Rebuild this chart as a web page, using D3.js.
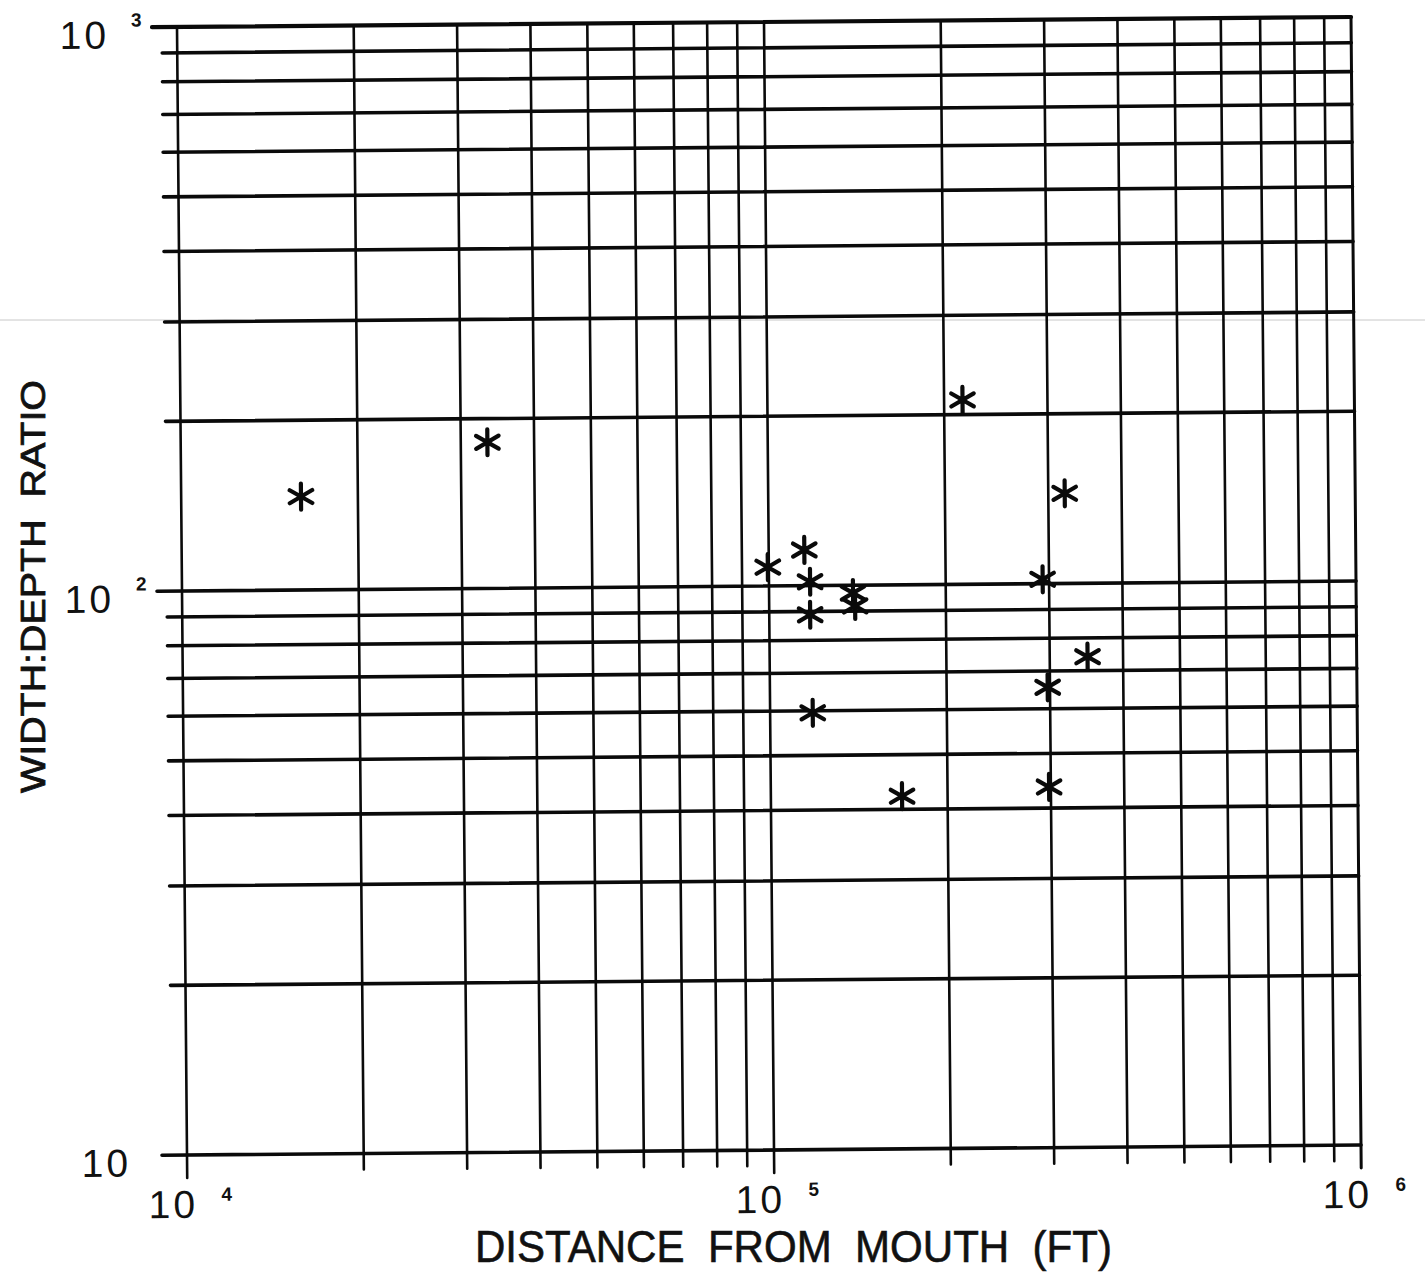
<!DOCTYPE html>
<html>
<head>
<meta charset="utf-8">
<script src="https://cdn.jsdelivr.net/npm/d3@7"></script>
<style>
  html, body { margin: 0; padding: 0; background: #fff; }
  svg { display: block; }
  text { font-family: "Liberation Sans", Arial, sans-serif; fill: #111; }
</style>
</head>
<body>
<svg id="chart" width="1425" height="1275"></svg>
<script>
// Station distance from the river mouth (ft) and channel width:depth ratio
const distanceFt = [16000, 33300, 99600, 115000, 117500, 117400, 139000, 140100,
                    118200, 215000, 320000, 292600, 348000, 297300, 297900, 167300];
const widthDepth = [146.4, 181.6, 108.0, 115.7, 101.6, 88.8, 96.9, 91.9,
                    59.5, 212.3, 144.5, 101.8, 74.1, 65.5, 43.6, 42.2];

// Decade labels: base "10" with a raised exponent
const xDecades = [1e4, 1e5, 1e6];
const xDecadeExp = ["4", "5", "6"];
const yDecades = [10, 100, 1000];
const yDecadeExp = ["", "2", "3"];

const xTitle = "DISTANCE  FROM  MOUTH  (FT)";
const yTitle = "WIDTH:DEPTH  RATIO";

const W = 1174, H = 1128;
const svg = d3.select("#chart");
svg.append("rect").attr("width", 1425).attr("height", 1275).attr("fill", "#fff");

// faint rule line running across the sheet
svg.append("line")
  .attr("x1", 0).attr("x2", 1425).attr("y1", 320).attr("y2", 320)
  .attr("stroke", "#c8c8c8").attr("stroke-width", 1);

const x = d3.scaleLog().domain([1e4, 1e6]).range([0, W]);
const y = d3.scaleLog().domain([10, 1000]).range([0, -H]);

// plotting frame, origin at the lower-left corner, slightly skewed sheet
const g = svg.append("g")
  .attr("transform", `matrix(1,${-10 / W},${10 / H},1,187,1155)`);

const ink = "#0a0a0a";
const isMajor = v => Math.abs(Math.log10(v) - Math.round(Math.log10(v))) < 1e-9;

// vertical grid (one per 1..9 x 10^n), running past the bottom edge as ticks
g.selectAll("line.vgrid")
  .data(x.ticks())
  .join("line")
  .attr("class", "vgrid")
  .attr("x1", d => x(d)).attr("x2", d => x(d))
  .attr("y1", d => isMajor(d) ? 23 : 16)
  .attr("y2", -H)
  .attr("stroke", ink)
  .attr("stroke-linecap", "round")
  .attr("stroke-width", d => (d === 1e6 ? 3.0 : 2.6));

// horizontal grid, running past the left edge as ticks
g.selectAll("line.hgrid")
  .data(y.ticks())
  .join("line")
  .attr("class", "hgrid")
  .attr("y1", d => y(d)).attr("y2", d => y(d))
  .attr("x1", d => isMajor(d) ? -25 : -15)
  .attr("x2", W)
  .attr("stroke", ink)
  .attr("stroke-linecap", "round")
  .attr("stroke-width", d => (d === 1000 ? 4.2 : 3.6));

// x decade labels
g.selectAll("text.xbase")
  .data(xDecades)
  .join("text")
  .attr("class", "xbase")
  .attr("x", d => x(d) - 14)
  .attr("y", 63)
  .attr("text-anchor", "middle")
  .attr("font-size", 39)
  .attr("letter-spacing", 3)
  .text("10");

g.selectAll("text.xexp")
  .data(xDecades)
  .join("text")
  .attr("class", "xexp")
  .attr("x", d => x(d) + 34)
  .attr("y", 46)
  .attr("font-size", 19)
  .attr("font-weight", "bold")
  .text((d, i) => xDecadeExp[i]);

// y decade labels
g.selectAll("text.ybase")
  .data(yDecades)
  .join("text")
  .attr("class", "ybase")
  .attr("x", (d, i) => yDecadeExp[i] ? -68 : -56)
  .attr("y", d => y(d) + 21)
  .attr("text-anchor", "end")
  .attr("font-size", 39)
  .attr("letter-spacing", 3)
  .text("10");

g.selectAll("text.yexp")
  .data(yDecades)
  .join("text")
  .attr("class", "yexp")
  .attr("x", -46)
  .attr("y", d => y(d) - 1)
  .attr("font-size", 19)
  .attr("font-weight", "bold")
  .text((d, i) => yDecadeExp[i]);

// observations as six-armed asterisks
const star = d3.symbol(d3.symbolAsterisk, 478);
g.selectAll("path.obs")
  .data(distanceFt.map((d, i) => [d, widthDepth[i]]))
  .join("path")
  .attr("class", "obs")
  .attr("transform", d => `translate(${x(d[0])},${y(d[1])})`)
  .attr("d", star)
  .attr("fill", "none")
  .attr("stroke", ink)
  .attr("stroke-width", 4.2)
  .attr("stroke-linecap", "round");

// axis titles
svg.append("text")
  .attr("x", 475).attr("y", 1262)
  .attr("font-size", 45)
  .attr("textLength", 637)
  .attr("lengthAdjust", "spacingAndGlyphs")
  .attr("stroke", "#111").attr("stroke-width", 0.6)
  .style("white-space", "pre")
  .text(xTitle);

svg.append("text")
  .attr("transform", "translate(45,793) rotate(-90)")
  .attr("font-size", 35)
  .attr("textLength", 413)
  .attr("lengthAdjust", "spacingAndGlyphs")
  .attr("stroke", "#111").attr("stroke-width", 0.8)
  .style("white-space", "pre")
  .text(yTitle);
</script>
</body>
</html>
